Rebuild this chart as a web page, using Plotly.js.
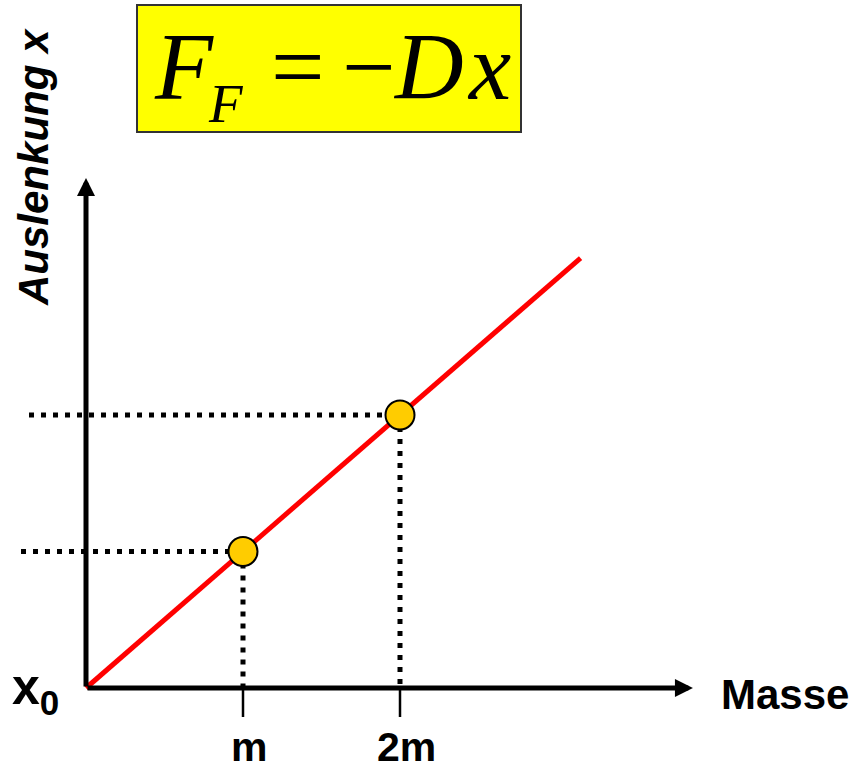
<!DOCTYPE html>
<html>
<head>
<meta charset="utf-8">
<script src="https://cdn.plot.ly/plotly-3.0.1.min.js"></script>
<style>
  html, body { margin: 0; padding: 0; background: #ffffff; }
  #chart { width: 861px; height: 773px; }
</style>
</head>
<body>
<div id="chart"></div>
<script>
// Mass (in units of m) and the resulting spring extension (in units of x for m)
var masses = [1, 2];
var extensions = [1, 2];
var massLabels = ['m', '2m'];

// Hooke line x = m·g/D drawn from the rest position outwards
var lineMass = [0, 3.15];
var lineExtension = [0, 3.15];

// Where the dotted read-off guides begin, left of the extension axis
var guideStart = [-0.414, -0.363];

// Axis extents (arrow tips) and tick depth, in data units
var massAxisEnd = 3.866;
var extAxisEnd = 3.736;
var tickDepth = -0.2125;

var W = 861, H = 773;
function px(x) { return x / W; }
function py(y) { return 1 - y / H; }

var SANS = 'Liberation Sans, Arial, sans-serif';
var SERIF = 'Liberation Serif, Times New Roman, serif';

var traces = [
  {
    x: lineMass, y: lineExtension, mode: 'lines',
    line: { color: '#ff0000', width: 5 },
    hoverinfo: 'skip'
  },
  {
    x: masses, y: extensions, mode: 'markers',
    marker: { size: 29, color: '#ffcc00', line: { color: '#000000', width: 2 } },
    hoverinfo: 'skip'
  }
];

var shapes = [];
// dotted guides from each point to both axes
for (var i = 0; i < masses.length; i++) {
  shapes.push({
    type: 'line', xref: 'x', yref: 'y', layer: 'below',
    x0: guideStart[i], y0: extensions[i], x1: masses[i], y1: extensions[i],
    line: { color: '#000000', width: 5, dash: '5px,7px' }
  });
  shapes.push({
    type: 'line', xref: 'x', yref: 'y', layer: 'below',
    x0: masses[i], y0: extensions[i], x1: masses[i], y1: 0,
    line: { color: '#000000', width: 5, dash: '5px,7px' }
  });
  // tick below the mass axis
  shapes.push({
    type: 'line', xref: 'x', yref: 'y', layer: 'below',
    x0: masses[i], y0: 0, x1: masses[i], y1: tickDepth,
    line: { color: '#000000', width: 2.5 }
  });
}
// yellow formula panel
shapes.push({
  type: 'rect', xref: 'paper', yref: 'paper', layer: 'below',
  x0: px(137), x1: px(521), y0: py(132), y1: py(5),
  fillcolor: '#ffff00', line: { color: '#333333', width: 2 }
});

var annotations = [
  // mass axis with arrow
  {
    x: massAxisEnd, y: 0, xref: 'x', yref: 'y',
    ax: 0, ay: 0, axref: 'x', ayref: 'y',
    text: '', showarrow: true, arrowhead: 2, arrowsize: 0.72, arrowwidth: 5,
    arrowcolor: '#000000', standoff: 0
  },
  // extension axis with arrow
  {
    x: 0, y: extAxisEnd, xref: 'x', yref: 'y',
    ax: 0, ay: 0, axref: 'x', ayref: 'y',
    text: '', showarrow: true, arrowhead: 2, arrowsize: 0.72, arrowwidth: 5,
    arrowcolor: '#000000', standoff: 0
  },
  {
    x: 4.452, y: -0.051, xref: 'x', yref: 'y', showarrow: false,
    text: '<b>Masse</b>', font: { family: SANS, size: 42, color: '#000000' },
    xanchor: 'center', yanchor: 'middle'
  },
  {
    x: -0.331, y: 3.817, xref: 'x', yref: 'y', showarrow: false, textangle: -90,
    text: '<b><i>Auslenkung x</i></b>', font: { family: SANS, size: 42, color: '#000000' },
    xanchor: 'center', yanchor: 'middle'
  },
  {
    x: -0.484, y: -0.02, xref: 'x', yref: 'y', showarrow: false,
    text: '<b>x<sub>0</sub></b>', font: { family: SANS, size: 50, color: '#000000' },
    xanchor: 'left', yanchor: 'middle'
  },
  // formula F_F = −Dx
  {
    x: px(184), y: py(67), xref: 'paper', yref: 'paper', showarrow: false,
    text: '<i>F</i>', font: { family: SERIF, size: 95, color: '#000000' },
    xanchor: 'center', yanchor: 'middle'
  },
  {
    x: px(226), y: py(103), xref: 'paper', yref: 'paper', showarrow: false,
    text: '<i>F</i>', font: { family: SERIF, size: 55, color: '#000000' },
    xanchor: 'center', yanchor: 'middle'
  },
  {
    x: px(298), y: py(67), xref: 'paper', yref: 'paper', showarrow: false,
    text: '=', font: { family: SERIF, size: 95, color: '#000000' },
    xanchor: 'center', yanchor: 'middle'
  },
  {
    x: px(369), y: py(67), xref: 'paper', yref: 'paper', showarrow: false,
    text: '\u2212', font: { family: SERIF, size: 95, color: '#000000' },
    xanchor: 'center', yanchor: 'middle'
  },
  {
    x: px(428), y: py(67), xref: 'paper', yref: 'paper', showarrow: false,
    text: '<i>D</i>', font: { family: SERIF, size: 95, color: '#000000' },
    xanchor: 'center', yanchor: 'middle'
  },
  {
    x: px(489), y: py(67), xref: 'paper', yref: 'paper', showarrow: false,
    text: '<i>x</i>', font: { family: SERIF, size: 95, color: '#000000' },
    xanchor: 'center', yanchor: 'middle'
  }
];
// mass tick labels, kept just inside the bottom edge
for (var j = 0; j < masses.length; j++) {
  annotations.push({
    x: masses[j], y: py(772), xref: 'x', yref: 'paper', xshift: 6, showarrow: false,
    text: '<b>' + massLabels[j] + '</b>', font: { family: SANS, size: 41, color: '#000000' },
    xanchor: 'center', yanchor: 'bottom'
  });
}

var layout = {
  width: W, height: H,
  margin: { l: 0, r: 0, t: 0, b: 0, pad: 0 },
  paper_bgcolor: '#ffffff', plot_bgcolor: '#ffffff',
  showlegend: false,
  xaxis: { range: [-86 / 157, (W - 86) / 157], visible: false, fixedrange: true },
  yaxis: { range: [-(H - 688) / 136.5, 688 / 136.5], visible: false, fixedrange: true },
  shapes: shapes,
  annotations: annotations
};

Plotly.newPlot('chart', traces, layout, { staticPlot: true, displayModeBar: false });
</script>
</body>
</html>
